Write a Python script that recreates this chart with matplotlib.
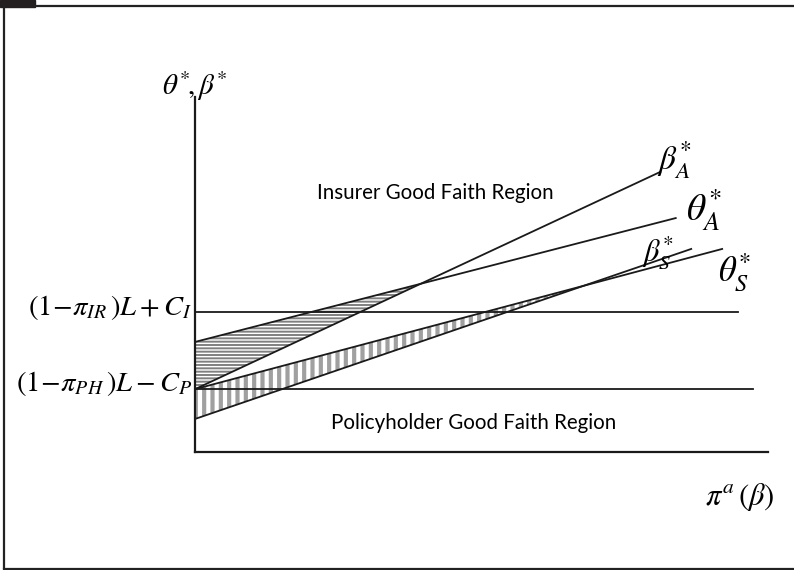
import matplotlib
matplotlib.use("Agg")
import matplotlib.pyplot as plt
from matplotlib.lines import Line2D
from matplotlib.patches import Rectangle
import numpy as np

plt.rcParams['mathtext.fontset'] = 'stix'
plt.rcParams['font.family'] = ['Lato', 'DejaVu Sans']

# Diagram data (abstract units, axis runs 0..10 both ways)
line_names = ['beta_A', 'theta_A', 'theta_S', 'beta_S']
line_x0 = [0.0, 0.0, 0.0, 0.0]
line_y0 = [1.77, 3.10, 1.77, 0.93]
line_x1 = [8.12, 8.39, 9.20, 8.66]
line_y1 = [7.89, 6.59, 5.72, 5.72]

# Horizontal thresholds
thresh_y = [3.94, 1.77]
thresh_xmax = [9.48, 9.74]
thresh_labels = [r'$(1\!-\!\pi_{IR}\,)L+C_{I}$', r'$(1\!-\!\pi_{PH}\,)L-C_{P}$']
thresh_label_y = [4.06, 1.94]

# Curve labels
curve_labels = [r'$\beta_{A}^{*}$', r'$\theta_{A}^{*}$', r'$\beta_{S}^{*}$', r'$\theta_{S}^{*}$']
curve_label_x = [8.36, 8.88, 8.08, 9.41]
curve_label_y = [8.23, 6.82, 5.61, 5.07]
curve_label_size = [24, 27, 22, 25]


def line_at(i, x):
    return line_y0[i] + (line_y1[i] - line_y0[i]) * (x - line_x0[i]) / (line_x1[i] - line_x0[i])


def crossing(i, j):
    si = (line_y1[i] - line_y0[i]) / (line_x1[i] - line_x0[i])
    sj = (line_y1[j] - line_y0[j]) / (line_x1[j] - line_x0[j])
    return (line_y0[j] - line_y0[i]) / (si - sj)


fig = plt.figure(figsize=(7.94, 5.70), dpi=100)

# page frame
bg = fig.add_axes([0, 0, 1, 1])
bg.set_xlim(0, 794)
bg.set_ylim(570, 0)
bg.axis('off')
bg.add_line(Line2D([35, 794], [5.5, 5.5], color='#222222', lw=1.6))
bg.add_line(Line2D([4, 4], [5, 568], color='#222222', lw=1.6))
bg.add_line(Line2D([4, 794], [568.5, 568.5], color='#222222', lw=1.6))
bg.add_patch(Rectangle((0, 0), 35, 6.5, color='#231f20'))

ax = fig.add_axes([195 / 794, 118 / 570, 573 / 794, 355 / 570])
ax.set_xlim(0, 10)
ax.set_ylim(0, 10)
ax.patch.set_alpha(0)
for s in ['top', 'right']:
    ax.spines[s].set_visible(False)
for s in ['left', 'bottom']:
    ax.spines[s].set_linewidth(1.6)
    ax.spines[s].set_color('#1a1a1a')
ax.set_xticks([])
ax.set_yticks([])

# hatched regions
xa = np.linspace(0, crossing(0, 1), 50)
with plt.rc_context({'hatch.linewidth': 1.4}):
    fa = ax.fill_between(xa, line_at(0, xa), line_at(1, xa), facecolor='none',
                         edgecolor='#808080', linewidth=0, hatch='-----')
xs = np.linspace(0, crossing(2, 3), 50)
with plt.rc_context({'hatch.linewidth': 3.0}):
    fs = ax.fill_between(xs, line_at(3, xs), line_at(2, xs), facecolor='none',
                         edgecolor='#a0a0a0', linewidth=0, hatch='||')
if hasattr(fa, 'set_hatch_linewidth'):
    fa.set_hatch_linewidth(1.4)
    fs.set_hatch_linewidth(3.0)

# threshold lines
for y, xm, lab, ly in zip(thresh_y, thresh_xmax, thresh_labels, thresh_label_y):
    ax.plot([0, xm], [y, y], color='#1a1a1a', lw=1.3)
    ax.text(-0.05, ly, lab, ha='right', va='center', fontsize=20.5, clip_on=False)

# strategy lines
for i in range(len(line_names)):
    ax.plot([line_x0[i], line_x1[i]], [line_y0[i], line_y1[i]], color='#1a1a1a', lw=1.3)

for lab, x, y, fs_ in zip(curve_labels, curve_label_x, curve_label_y, curve_label_size):
    ax.text(x, y, lab, ha='center', va='center', fontsize=fs_, clip_on=False)

ax.text(0.0, 10.3, r'$\theta^{*}\!,\beta^{*}$', ha='center', va='center', fontsize=21, clip_on=False)
ax.text(9.51, -1.27, r'$\pi^{a}\,(\beta)$', ha='center', va='center', fontsize=22, clip_on=False)

ax.text(4.19, 7.30, 'Insurer Good Faith Region', ha='center', va='center', fontsize=14.8)
ax.text(4.87, 0.82, 'Policyholder Good Faith Region', ha='center', va='center', fontsize=14.8)

fig.savefig('out.png', dpi=100)
